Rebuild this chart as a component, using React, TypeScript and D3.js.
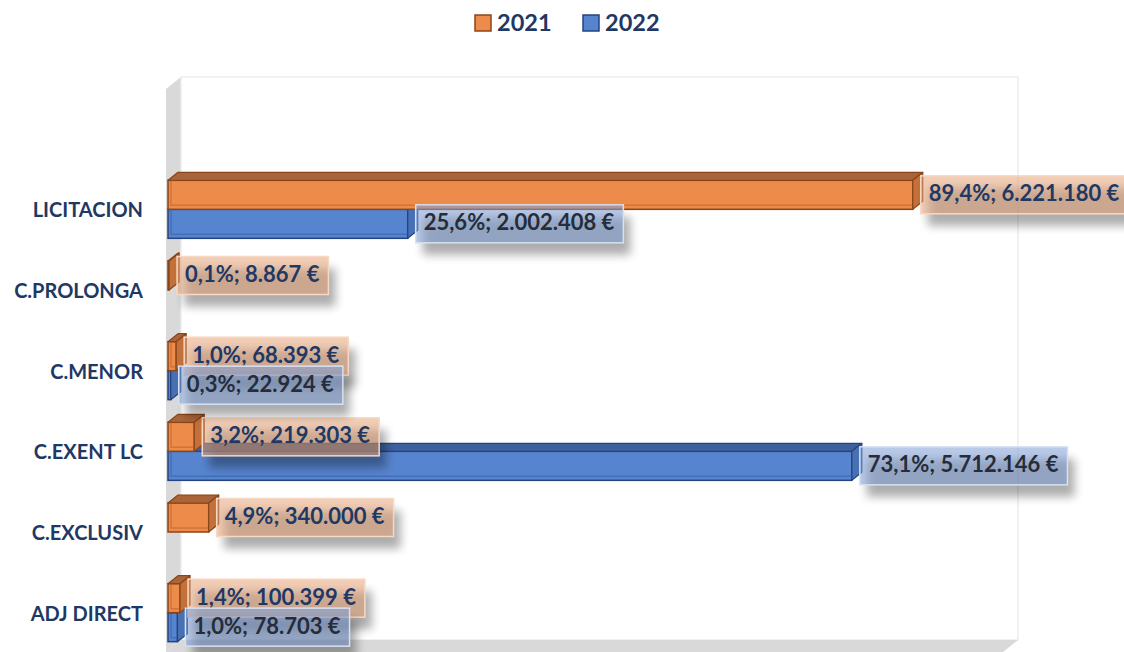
import { useEffect, useRef } from "react";
import * as d3 from "d3";

const categories = ["LICITACION", "C.PROLONGA", "C.MENOR", "C.EXENT LC", "C.EXCLUSIV", "ADJ DIRECT"];
const years = ["2021", "2022"];
const values2021 = [6221180, 8867, 68393, 219303, 340000, 100399];
const values2022 = [2002408, 0, 22924, 5712146, 0, 78703];
const xMax = 7000000;

const width = 1124;
const height = 652;
const dx = 10;
const dy = -8;

const palette: any = {
  "2021": { front: "#ED8B4A", top: "#A9643A", side: "#C3703B", stroke: "#8A4519", line: "#C9682C", box: "#E8A478", boxStroke: "#F6D8C4", text: "#1F3864" },
  "2022": { front: "#5684CE", top: "#3E619E", side: "#4770B5", stroke: "#25447F", line: "#3C66AE", box: "#7D9FD6", boxStroke: "#D6E1F2", text: "#262C3A" },
};

const locale = d3.formatLocale({ decimal: ",", thousands: ".", grouping: [3], currency: ["", " €"] });
const fmtMoney = locale.format(",.0f");
const fmtPct = locale.format(".1f");

const draw = (ref: SVGSVGElement) => {
  const svg = d3.select(ref);
  svg.selectAll("*").remove();
  const font = "Lato, 'Open Sans', sans-serif";

  const x = d3.scaleLinear().domain([0, xMax]).range([168, 1006]);
  const y = d3.scaleBand().domain(categories).range([169, 653]).padding(0);
  const inner = d3.scaleBand().domain(years).range([0, 58]);
  const off = (y.bandwidth() - 58) / 2;

  const defs = svg.append("defs");
  defs.append("filter").attr("id", "blur").attr("x", "-20%").attr("y", "-50%").attr("width", "140%").attr("height", "200%")
    .append("feGaussianBlur").attr("stdDeviation", 5);

  // walls
  svg.append("polygon").attr("points", "166,89 181,77 181,640 166,652").attr("fill", "#D9D9D9");
  svg.append("rect").attr("x", 181).attr("y", 77).attr("width", 837).attr("height", 563)
    .attr("fill", "#fff").attr("stroke", "#EDEDED").attr("stroke-width", 1.5);
  svg.append("polygon").attr("points", "166,652 181,640 1018,640 1003,652").attr("fill", "#D9D9D9");

  // legend
  const legend = svg.append("g");
  [{ k: "2021", x: 475 }, { k: "2022", x: 583 }].forEach((l) => {
    legend.append("rect").attr("x", l.x).attr("y", 15).attr("width", 16).attr("height", 16)
      .attr("fill", palette[l.k].front).attr("stroke", palette[l.k].stroke).attr("stroke-width", 1.5);
    legend.append("text").text(l.k).attr("x", l.x + 22).attr("y", 31)
      .attr("font-family", font).attr("font-weight", 700).attr("font-size", 23.5).attr("fill", "#1F3864");
  });

  // category labels
  svg.append("g").selectAll("text").data(categories).enter().append("text")
    .text((d) => d)
    .attr("x", 143)
    .attr("y", (d) => y(d)! + y.bandwidth() / 2 + 3)
    .attr("text-anchor", "end")
    .attr("dominant-baseline", "middle")
    .attr("font-family", font).attr("font-weight", 700).attr("font-size", 20).attr("fill", "#1F3864");

  const totals: any = { "2021": d3.sum(values2021), "2022": d3.sum(values2022) };
  const rows = categories.flatMap((c, i) => [
    { cat: c, year: "2021", v: values2021[i] },
    { cat: c, year: "2022", v: values2022[i] },
  ]).filter((d) => d.v > 0);

  // bars: blue drawn first in each category, orange on top
  const bars = svg.append("g");
  categories.forEach((c) => {
    ["2022", "2021"].forEach((yr) => {
      const d = rows.find((r) => r.cat === c && r.year === yr);
      if (!d) return;
      const p = palette[yr];
      const x0 = x(0);
      const x1 = x(d.v);
      const y0 = y(c)! + off + inner(yr)!;
      const y1 = y0 + inner.bandwidth();
      const g = bars.append("g");
      g.append("rect").attr("x", x0).attr("y", y0).attr("width", Math.max(x1 - x0, 0.5)).attr("height", y1 - y0)
        .attr("fill", p.front).attr("stroke", p.stroke).attr("stroke-width", 1.5);
      if (x1 - x0 > 6) {
        g.append("path").attr("d", `M${x0 + 3},${y0} V${y1 - 4} H${x1}`)
          .attr("fill", "none").attr("stroke", p.line).attr("stroke-width", 1.5).attr("opacity", 0.7);
      }
      g.append("polygon").attr("points", `${x0},${y0} ${x0 + dx},${y0 + dy} ${x1 + dx},${y0 + dy} ${x1},${y0}`)
        .attr("fill", p.top).attr("stroke", p.stroke).attr("stroke-width", 1.2).attr("stroke-linejoin", "round");
      g.append("polygon").attr("points", `${x1},${y0} ${x1 + dx},${y0 + dy} ${x1 + dx},${y1 + dy} ${x1},${y1}`)
        .attr("fill", p.side).attr("stroke", p.stroke).attr("stroke-width", 1.2).attr("stroke-linejoin", "round");
    });
  });

  // data labels
  const labels = svg.append("g");
  ["2021", "2022"].forEach((yr) => {
    rows.filter((r) => r.year === yr).forEach((d) => {
      const p = palette[yr];
      const txt = `${fmtPct((d.v / totals[yr]) * 100)}%; ${fmtMoney(d.v)} €`;
      const yc = y(d.cat)! + off + inner(yr)! + inner.bandwidth() / 2;
      const bx = x(d.v) + dx - 2;
      const g = labels.append("g");
      const shadow = g.append("rect");
      const box = g.append("rect");
      const t = g.append("text").text(txt).attr("x", bx + 8).attr("y", yc + 1)
        .attr("dominant-baseline", "middle")
        .attr("font-family", font).attr("font-weight", 700).attr("font-size", 22).attr("fill", p.text);
      const w = (t.node() as SVGTextElement).getComputedTextLength() + 17;
      shadow.attr("x", bx + 7).attr("y", yc - 19 + 12).attr("width", w).attr("height", 38)
        .attr("fill", "#000").attr("opacity", 0.32).attr("filter", "url(#blur)");
      box.attr("x", bx).attr("y", yc - 19).attr("width", w).attr("height", 38)
        .attr("fill", p.box).attr("fill-opacity", 0.55).attr("stroke", p.boxStroke).attr("stroke-width", 1.5);
    });
  });
};

export default function App() {
  const ref = useRef<SVGSVGElement>(null);
  useEffect(() => {
    if (ref.current) draw(ref.current);
  }, []);
  return (
    <div>
      <svg ref={ref} width={width} height={height} style={{ position: "absolute", left: 0, top: 0, background: "#fff" }}></svg>
    </div>
  );
}
